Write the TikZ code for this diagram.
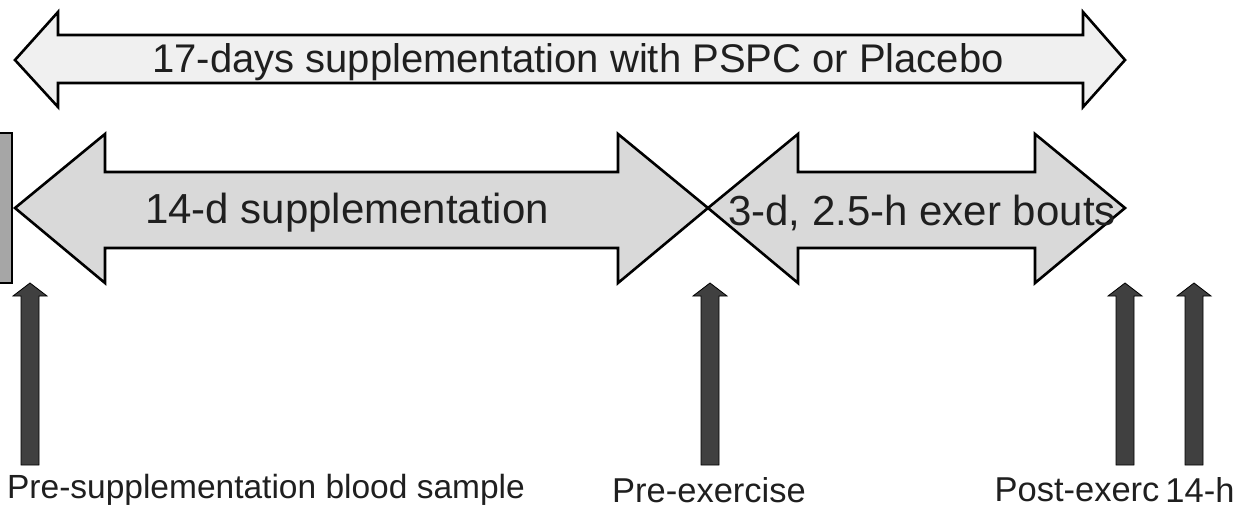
\documentclass[tikz,border=0pt]{standalone}
\usepackage{fontspec}
\setmainfont{Liberation Sans}
\begin{document}
\begin{tikzpicture}[x=1pt,y=-1pt,
  bigarrow/.style={draw=black,line width=2.6pt,line join=miter,fill=#1},
  pin/.style={draw=black,line width=0.8pt,fill=black!75},
  lbl/.style={inner sep=0pt,text=black!88},
  toptxt/.style={lbl,font=\fontsize{40}{44}\selectfont},
  midtxt/.style={lbl,font=\fontsize{42}{46}\selectfont},
  bottxt/.style={lbl,font=\fontsize{34.5}{38}\selectfont}]
\useasboundingbox (0,0) rectangle (1238,508);
% top double arrow
\draw[bigarrow=black!6] (15,60) -- (58,12) -- (58,35) -- (1083,35) -- (1083,12) -- (1125,60)
  -- (1083,107) -- (1083,83) -- (58,83) -- (58,107) -- cycle;
\node[toptxt] (t17) at (578,62) {17-days supplementation with PSPC or Placebo};
% left bar
\draw[draw=black,line width=2.2pt,fill=black!35] (-3,133) rectangle (12,283);
% middle arrows
\draw[bigarrow=black!15] (15,208) -- (105,134) -- (105,172) -- (618,172) -- (618,134) -- (708,208)
  -- (618,283) -- (618,248) -- (105,248) -- (105,283) -- cycle;
\draw[bigarrow=black!15] (708,208) -- (798,134) -- (798,172) -- (1035,172) -- (1035,134) -- (1125,208)
  -- (1035,283) -- (1035,248) -- (798,248) -- (798,283) -- cycle;
\node[midtxt] (t14) at (347,213) {14-d supplementation};
\node[midtxt] (t3) at (922,213) {3-d, 2.5-h exer bouts};
% small arrows
\foreach \x/\n in {30/a1,710/a2,1125/a3,1194/a4}{
  \draw[pin] (\x-9,465) -- (\x-9,296) -- (\x-17,296) -- (\x,283) -- (\x+17,296) -- (\x+9,296) -- (\x+9,465) -- cycle;
}
\node[bottxt,font=\fontsize{33.5}{38}\selectfont] (b1) at (266,490) {Pre-supplementation blood sample};
\node[bottxt] (b2) at (709,490) {Pre-exercise};
\node[bottxt] (b3) at (1077,490) {Post-exerc};
\node[bottxt] (b4) at (1200,490) {14-h};
\end{tikzpicture}
\end{document}
